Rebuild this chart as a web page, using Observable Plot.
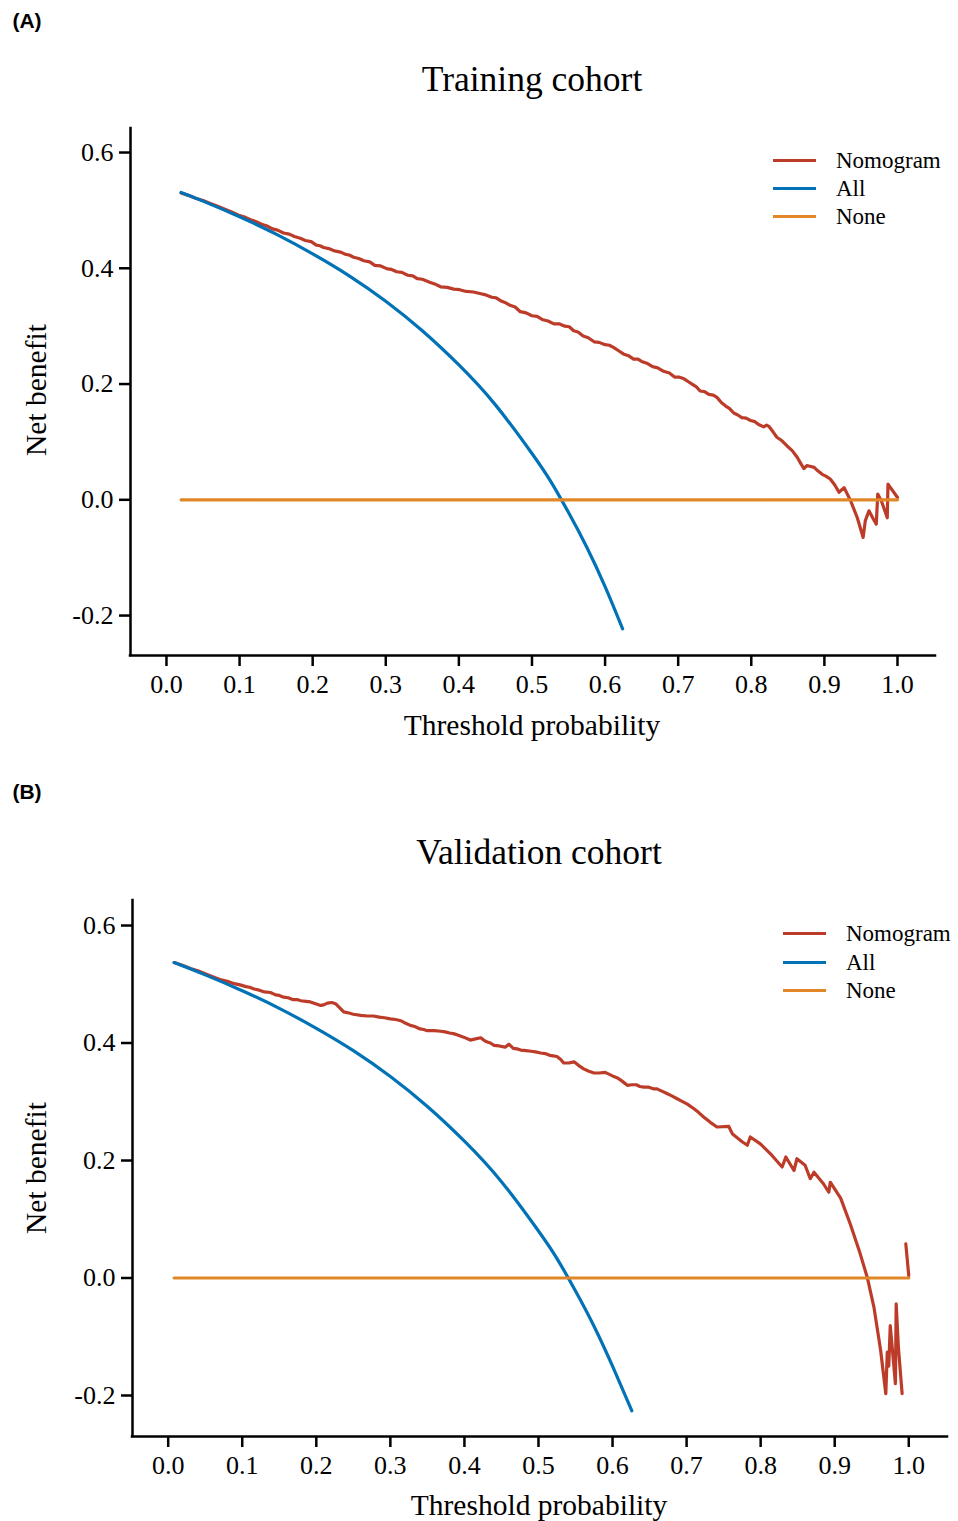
<!DOCTYPE html>
<html><head><meta charset="utf-8">
<script src="https://cdn.jsdelivr.net/npm/d3@7"></script>
<script src="https://cdn.jsdelivr.net/npm/@observablehq/plot@0.6"></script>
<style>
body{margin:0;background:#fff;}
#page{position:relative;width:958px;height:1521px;overflow:hidden;font-family:"Liberation Serif",serif;color:#000;background:#fff;}
#page svg text{font-family:"Liberation Serif",serif !important;}
.abs{position:absolute;white-space:nowrap;line-height:1;}
.c{transform:translate(-50%,-50%);}
.rot{transform:translate(-50%,-50%) rotate(-90deg);}
.panel{position:absolute;left:0;}
.tag{font-family:"Liberation Sans",sans-serif;font-weight:bold;font-size:21px;}
.title{font-size:35.5px;}
.axl{font-size:29.5px;}
.leg{font-size:23px;}
.legline{position:absolute;height:3px;}
</style></head>
<body><div id="page"></div>
<script>
// ---- shared ----
const seriesNames = ["Nomogram", "All", "None"];
const seriesColors = ["#BC3C29", "#0072B5", "#E18727"];
const xTicks = [0, 0.1, 0.2, 0.3, 0.4, 0.5, 0.6, 0.7, 0.8, 0.9, 1.0];
const yTicks = [-0.2, 0, 0.2, 0.4, 0.6];
const panelTags = ["(A)", "(B)"];
const panelTitles = ["Training cohort", "Validation cohort"];
const xLabel = "Threshold probability";
const yLabel = "Net benefit";

// ---- (A) Training cohort ----
const trainNomPt = [0.020,0.030,0.040,0.050,0.060,0.070,0.080,0.090,0.100,0.108,0.115,0.122,0.130,0.138,0.145,0.152,0.160,0.168,0.175,0.183,0.190,0.198,0.205,0.210,0.215,0.222,0.230,0.238,0.245,0.250,0.256,0.263,0.270,0.278,0.285,0.293,0.302,0.308,0.315,0.322,0.330,0.337,0.343,0.350,0.360,0.367,0.375,0.384,0.393,0.401,0.410,0.420,0.430,0.437,0.445,0.451,0.457,0.463,0.470,0.477,0.484,0.492,0.500,0.507,0.515,0.522,0.530,0.537,0.545,0.551,0.557,0.563,0.570,0.577,0.585,0.592,0.600,0.606,0.612,0.618,0.625,0.632,0.639,0.645,0.650,0.657,0.665,0.672,0.680,0.688,0.695,0.701,0.708,0.714,0.720,0.725,0.730,0.736,0.742,0.748,0.753,0.759,0.765,0.770,0.776,0.781,0.787,0.793,0.799,0.805,0.810,0.817,0.821,0.824,0.830,0.835,0.842,0.849,0.856,0.863,0.868,0.872,0.876,0.880,0.886,0.891,0.897,0.902,0.908,0.914,0.920,0.927,0.936,0.945,0.953,0.956,0.961,0.966,0.971,0.973,0.978,0.986,0.987,1.000];
const trainNomNb = [0.530,0.526,0.521,0.517,0.512,0.507,0.502,0.497,0.491,0.488,0.484,0.481,0.476,0.473,0.468,0.466,0.461,0.459,0.455,0.452,0.448,0.446,0.440,0.439,0.436,0.434,0.430,0.428,0.424,0.423,0.419,0.417,0.413,0.411,0.405,0.404,0.399,0.398,0.394,0.393,0.388,0.387,0.382,0.381,0.376,0.373,0.368,0.367,0.364,0.363,0.360,0.359,0.356,0.354,0.350,0.349,0.344,0.341,0.336,0.333,0.325,0.323,0.318,0.317,0.311,0.309,0.304,0.304,0.300,0.299,0.292,0.290,0.283,0.280,0.273,0.272,0.268,0.267,0.263,0.258,0.252,0.249,0.243,0.243,0.239,0.236,0.230,0.228,0.222,0.219,0.212,0.212,0.209,0.204,0.199,0.195,0.188,0.187,0.182,0.181,0.177,0.168,0.162,0.158,0.150,0.147,0.142,0.141,0.137,0.135,0.130,0.126,0.129,0.127,0.117,0.108,0.102,0.093,0.085,0.073,0.062,0.054,0.059,0.058,0.056,0.050,0.044,0.041,0.036,0.026,0.013,0.021,-0.002,-0.031,-0.065,-0.036,-0.019,-0.031,-0.042,0.010,-0.002,-0.031,0.027,0.004];
const trainAllPt = [0.020,0.050,0.100,0.150,0.200,0.250,0.300,0.350,0.400,0.450,0.500,0.525,0.550,0.575,0.600,0.624];
const trainAllNb = [0.531,0.516,0.489,0.459,0.425,0.387,0.343,0.292,0.233,0.164,0.080,0.033,-0.022,-0.082,-0.150,-0.223];
const trainNonePt = [0.020, 1.000];
const trainNoneNb = [0, 0];

// ---- (B) Validation cohort ----
const validNomPt = [0.008,0.020,0.030,0.040,0.050,0.060,0.070,0.080,0.089,0.097,0.105,0.110,0.116,0.123,0.130,0.138,0.145,0.150,0.156,0.162,0.168,0.174,0.179,0.186,0.192,0.199,0.206,0.210,0.215,0.221,0.226,0.230,0.234,0.237,0.244,0.250,0.260,0.269,0.277,0.285,0.292,0.300,0.307,0.314,0.320,0.327,0.333,0.340,0.345,0.350,0.359,0.368,0.374,0.380,0.385,0.390,0.399,0.408,0.415,0.422,0.426,0.430,0.435,0.440,0.447,0.455,0.460,0.466,0.471,0.476,0.483,0.490,0.496,0.503,0.509,0.515,0.520,0.525,0.530,0.534,0.541,0.548,0.554,0.561,0.568,0.575,0.582,0.590,0.595,0.600,0.606,0.611,0.615,0.620,0.626,0.632,0.637,0.642,0.648,0.655,0.660,0.665,0.672,0.680,0.686,0.692,0.701,0.710,0.716,0.723,0.732,0.741,0.757,0.762,0.775,0.782,0.786,0.800,0.815,0.829,0.834,0.845,0.849,0.860,0.867,0.872,0.885,0.892,0.894,0.908,0.921,0.933,0.944,0.953,0.962,0.969,0.971,0.973,0.975,0.982,0.983,0.986,0.991,null,0.996,1.000];
const validNomNb = [0.537,0.532,0.527,0.523,0.518,0.513,0.508,0.505,0.501,0.499,0.496,0.495,0.492,0.490,0.487,0.486,0.482,0.481,0.478,0.477,0.474,0.474,0.472,0.471,0.470,0.467,0.464,0.465,0.468,0.469,0.467,0.462,0.457,0.453,0.451,0.449,0.447,0.446,0.446,0.444,0.443,0.441,0.440,0.438,0.434,0.430,0.428,0.424,0.423,0.421,0.421,0.420,0.419,0.417,0.416,0.414,0.410,0.405,0.407,0.409,0.405,0.402,0.400,0.396,0.395,0.393,0.398,0.391,0.390,0.388,0.387,0.386,0.385,0.383,0.382,0.379,0.378,0.377,0.372,0.366,0.366,0.368,0.362,0.356,0.352,0.349,0.349,0.350,0.347,0.344,0.341,0.337,0.333,0.328,0.329,0.329,0.326,0.325,0.325,0.322,0.322,0.319,0.315,0.310,0.306,0.302,0.296,0.288,0.282,0.274,0.265,0.257,0.258,0.245,0.232,0.226,0.240,0.228,0.209,0.189,0.206,0.183,0.203,0.192,0.169,0.180,0.160,0.146,0.163,0.136,0.092,0.047,0.001,-0.050,-0.123,-0.197,-0.126,-0.150,-0.081,-0.180,-0.044,-0.118,-0.197,null,0.058,0.004];
const validAllPt = [0.008,0.050,0.100,0.150,0.200,0.250,0.300,0.350,0.400,0.450,0.500,0.525,0.550,0.575,0.600,0.626];
const validAllNb = [0.537,0.516,0.489,0.459,0.425,0.387,0.343,0.292,0.233,0.164,0.080,0.033,-0.022,-0.082,-0.150,-0.226];
const validNonePt = [0.008, 1.000];
const validNoneNb = [0, 0];

// ---- layout ----
const panels = [
  {top: 0, height: 760, mt: 128, mb: 105, ml: 130, mr: 23,
   xDomain: [-0.0492, 1.052], yDomain: [-0.269, 0.6415],
   nom: [trainNomPt, trainNomNb], all: [trainAllPt, trainAllNb], none: [trainNonePt, trainNoneNb],
   titleX: 532, titleY: 80, xlabX: 532, xlabY: 726, ylabX: 37, ylabY: 390,
   tagY: 20, legX: 773, legY: [160, 188, 216]},
  {top: 770, height: 751, mt: 130, mb: 85, ml: 132, mr: 11,
   xDomain: [-0.0482, 1.0523], yDomain: [-0.2698, 0.6426],
   nom: [validNomPt, validNomNb], all: [validAllPt, validAllNb], none: [validNonePt, validNoneNb],
   titleX: 539, titleY: 853, xlabX: 539, xlabY: 1506, ylabX: 37, ylabY: 1168,
   tagY: 791, legX: 783, legY: [933, 962, 990]}
];

const page = document.getElementById("page");
function addText(txt, cls, x, y) {
  const d = document.createElement("div");
  d.className = "abs " + cls;
  d.style.left = x + "px"; d.style.top = y + "px";
  d.textContent = txt;
  page.appendChild(d);
  return d;
}
const toRows = (pair) => pair[0].map((x, i) => ({x, y: pair[1][i]}));

panels.forEach((p, k) => {
  const svg = Plot.plot({
    width: 958, height: p.height,
    marginTop: p.mt, marginBottom: p.mb, marginLeft: p.ml, marginRight: p.mr,
    x: {domain: p.xDomain},
    y: {domain: p.yDomain},
    style: {fontFamily: "'Liberation Serif', serif", fontSize: "26px", color: "#000", background: "transparent", overflow: "visible"},
    marks: [
      Plot.ruleX([p.xDomain[0]], {stroke: "#000", strokeWidth: 2.5, strokeLinecap: "square"}),
      Plot.ruleY([p.yDomain[0]], {stroke: "#000", strokeWidth: 2.5, strokeLinecap: "square"}),
      Plot.axisX(xTicks, {tickSize: 11, tickPadding: 8, tickFormat: d => d.toFixed(1), fontSize: 26, fontFamily: "Liberation Serif", strokeWidth: 2.5, label: null}),
      Plot.axisY(yTicks, {tickSize: 11, tickPadding: 6, tickFormat: d => d.toFixed(1), fontSize: 26, fontFamily: "Liberation Serif", strokeWidth: 2.5, label: null}),
      Plot.line(toRows(p.nom), {x: "x", y: "y", stroke: seriesColors[0], strokeWidth: 3.2, strokeLinejoin: "round"}),
      Plot.line(toRows(p.all), {x: "x", y: "y", stroke: seriesColors[1], strokeWidth: 3.2, curve: "natural"}),
      Plot.line(toRows(p.none), {x: "x", y: "y", stroke: seriesColors[2], strokeWidth: 3.2})
    ]
  });
  svg.classList.add("panel");
  svg.style.top = p.top + "px";
  svg.style.position = "absolute";
  page.appendChild(svg);

  addText(panelTags[k], "tag c", 27, p.tagY);
  addText(panelTitles[k], "title c", p.titleX, p.titleY);
  addText(xLabel, "axl c", p.xlabX, p.xlabY);
  addText(yLabel, "axl rot", p.ylabX, p.ylabY);
  seriesNames.forEach((name, i) => {
    const ln = document.createElement("div");
    ln.className = "legline";
    ln.style.left = p.legX + "px";
    ln.style.width = "43px";
    ln.style.top = (p.legY[i] - 1.5) + "px";
    ln.style.background = seriesColors[i];
    page.appendChild(ln);
    const t = addText(name, "leg", p.legX + 63, p.legY[i]);
    t.style.transform = "translateY(-50%)";
  });
});
</script>
</body></html>
